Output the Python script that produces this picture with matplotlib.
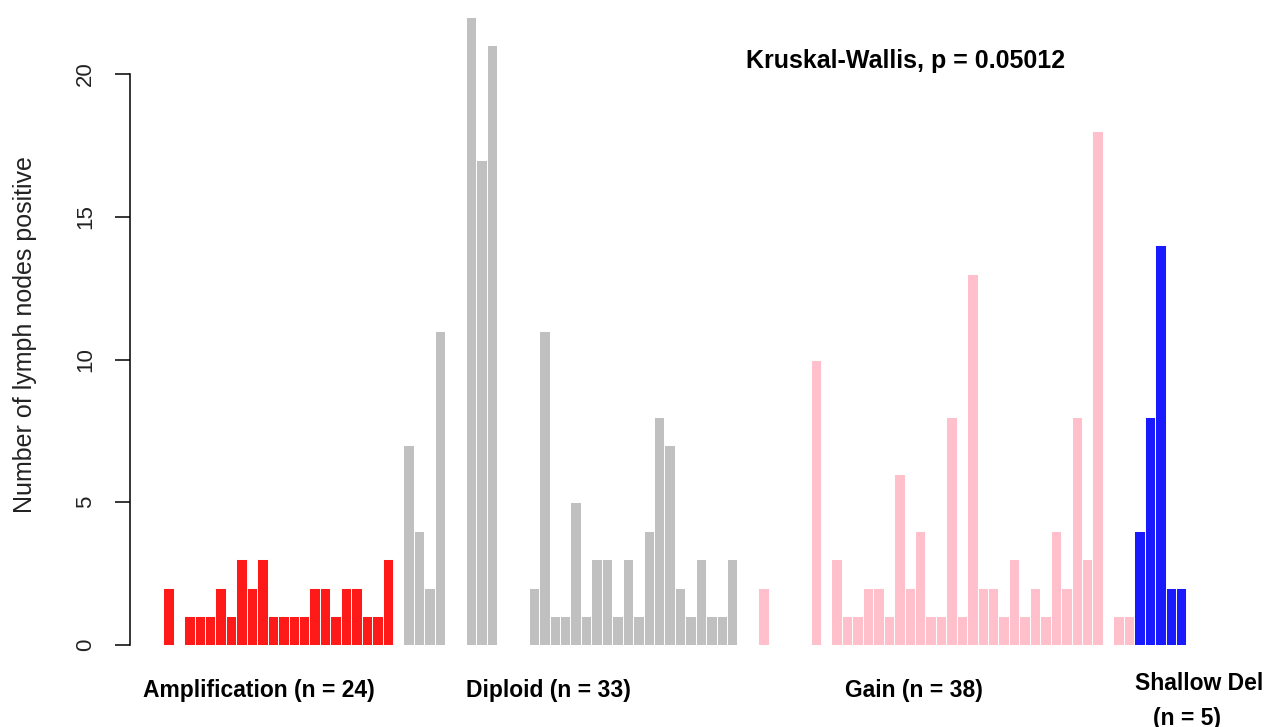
import matplotlib
matplotlib.use("Agg")
import matplotlib.pyplot as plt

plt.rcParams['font.family'] = ['Liberation Sans', 'DejaVu Sans']

# lymph node counts per sample, grouped by copy-number status
amplification = [0, 0, 2, 0, 1, 1, 1, 2, 1, 3, 2, 3, 1, 1, 1, 1, 2, 2, 1, 2, 2, 1, 1, 3]
diploid = [0, 7, 4, 2, 11, 0, 0, 22, 17, 21, 0, 0, 0, 2, 11, 1, 1, 5, 1, 3, 3, 1, 3,
           1, 4, 8, 7, 2, 1, 3, 1, 1, 3]
gain = [0, 0, 2, 0, 0, 0, 0, 10, 0, 3, 1, 1, 2, 2, 1, 6, 2, 4, 1, 1, 8, 1, 13, 2, 2,
        1, 3, 1, 2, 1, 4, 2, 8, 3, 18, 0, 1, 1]
shallow_del = [4, 8, 14, 2, 2]

groups = [amplification, diploid, gain, shallow_del]
group_colors = ["#ff1a1a", "#c0c0c0", "#ffc0cb", "#1a1aff"]
y_ticks = [0, 5, 10, 15, 20]
title = "Kruskal-Wallis, p = 0.05012"

values = []
colors = []
for vals, col in zip(groups, group_colors):
    values += vals
    colors += [col] * len(vals)

W, H = 1267, 727
fig = plt.figure(figsize=(W / 100, H / 100), dpi=100)

px_per_unit = 28.55
bar_px = 10.44
x0_px = 142.4
left_px = 129.5
right_px = 1207.3
base_px = 645
ymax = 22.5

ax = fig.add_axes([left_px / W, (H - base_px) / H,
                   (right_px - left_px) / W, ymax * px_per_unit / H])
ax.bar(range(len(values)), values, width=1.0, align="edge",
       color=colors, edgecolor="white", linewidth=0.7)

ax.set_xlim((left_px - x0_px) / bar_px, (right_px - x0_px) / bar_px)
ax.set_ylim(0, ymax)

for s in ["top", "right", "bottom"]:
    ax.spines[s].set_visible(False)
ax.spines["left"].set_bounds(0, 20)
ax.spines["left"].set_linewidth(1.1)
ax.set_xticks([])
ax.set_yticks(y_ticks)
ax.set_yticklabels([str(t) for t in y_ticks])
ax.tick_params(axis="y", length=11, width=1.1, pad=13, labelsize=16,
               labelrotation=90, labelcolor="#222222")
for lab in ax.get_yticklabels():
    lab.set_va("center")

fig.text(25 / W, 1 - 335 / H, "Number of lymph nodes positive", rotation=90,
         ha="center", va="center", fontsize=18, color="#222222")

fig.text(906 / W, 1 - 61 / H, title, ha="center", va="center",
         fontsize=18, fontweight="bold")

fig.text(258.5 / W, 1 - 691 / H, "Amplification (n = 24)", ha="center",
         va="center", fontsize=16.5, fontweight="bold")
fig.text(548.5 / W, 1 - 691 / H, "Diploid (n = 33)", ha="center",
         va="center", fontsize=16.5, fontweight="bold")
fig.text(914 / W, 1 - 691 / H, "Gain (n = 38)", ha="center",
         va="center", fontsize=16.5, fontweight="bold")
fig.text(1135 / W, 1 - 684 / H, "Shallow Del", ha="left",
         va="center", fontsize=16.5, fontweight="bold")
fig.text(1187 / W, 1 - 718 / H, "(n = 5)", ha="center",
         va="center", fontsize=16.5, fontweight="bold")

fig.savefig("out.png", dpi=100)
